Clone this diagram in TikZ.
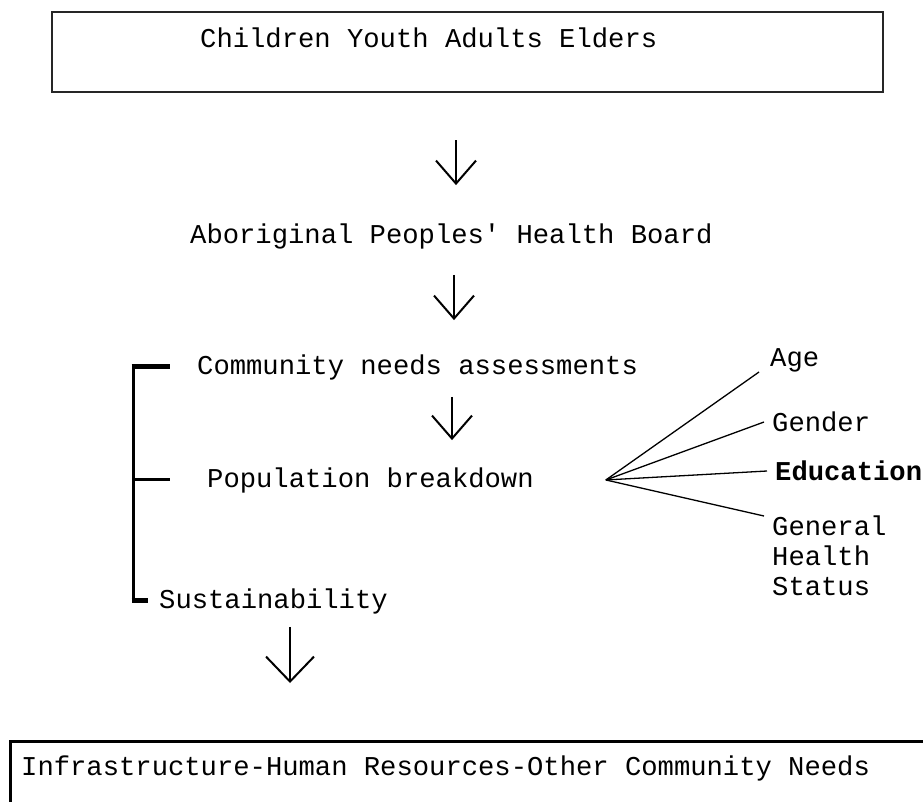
\documentclass[tikz,border=0pt]{standalone}
\usepackage{fontspec}
\setmonofont{Liberation Mono}
\usetikzlibrary{arrows.meta}

\tikzset{
  txt/.style={font=\ttfamily\fontsize{27.2pt}{30pt}\selectfont, inner sep=0pt, anchor=base west},
  frame/.style={draw, line width=2pt, inner sep=0pt, anchor=north west},
  flow/.style={line width=2pt, -{Straight Barb[length=23pt,width=40pt,line width=2pt]}},
  spoke/.style={line width=1.3pt},
}

\begin{document}
\begin{tikzpicture}[x=1pt,y=-1pt]
\clip (0,0) rectangle (923,801);
\fill[white] (0,0) rectangle (923,801);

% target groups at the top
\node[frame, draw=black!85, minimum width=831pt, minimum height=80pt] (groups) at (51,11) {};
\node[txt] (ages) at (200,47) {Children Youth Adults Elders};

% main column
\node[txt] (board) at (190,243) {Aboriginal Peoples' Health Board};
\node[txt] (needs) at (197,374) {Community needs assessments};
\node[txt] (pop) at (207,487) {Population breakdown};
\node[txt] (sust) at (159,608) {Sustainability};

% result box, runs off the page
\node[frame, line width=3pt, minimum width=960pt, minimum height=120pt] (infra) at (9,740) {};
\node[txt] (infratxt) at (21,775) {Infrastructure-Human Resources-Other Community Needs};

% arrows down the column
\coordinate (c1) at (456,0);
\coordinate (c2) at (454,0);
\coordinate (c3) at (452,0);
\coordinate (c4) at (290,0);
\draw[flow, shorten <=47pt, shorten >=38pt] (groups.south -| c1) -- (board.north -| c1);
\draw[flow, shorten <=26pt, shorten >=34pt] (board.south -| c2) -- (needs.north -| c2);
\draw[flow, shorten <=17pt, shorten >=27pt] (needs.south -| c3) -- (pop.north -| c3);
\draw[line width=2pt, -{Straight Barb[length=25pt,width=48pt,line width=2pt]}, shorten <=13pt, shorten >=57pt]
  (sust.south -| c4) -- (infra.north -| c4);

% bracket on the left
\coordinate (brk) at (133,0);
\path (brk |- needs.west) coordinate (bt)
      (brk |- pop.west) coordinate (bm)
      (brk |- sust.west) coordinate (bb);
\draw[line width=3pt] (bt) -- (bb);
\draw[line width=5pt] ([xshift=-1.5pt]bt) -- ([xshift=37pt]bt);
\draw[line width=3pt] (bm) -- ([xshift=37pt]bm);
\draw[line width=5pt] ([xshift=-1.5pt]bb) -- ([xshift=15pt]bb);

% breakdown fan
\coordinate (fan) at ([xshift=72pt]pop.east);
\node[txt, anchor=south west, inner xsep=11pt] (age) at (759,372) {Age};
\node[txt, anchor=west, inner xsep=8pt] (gender) at (764,422) {Gender};
\node[txt, anchor=west, inner xsep=8pt, font=\ttfamily\bfseries\fontsize{27.2pt}{30pt}\selectfont] (edu) at (767,471) {Education};
\node[txt, anchor=north west, inner xsep=8pt, align=left] (ghs) at (764,516) {General\\Health\\Status};
\draw[spoke] (fan) -- (age.south west);
\draw[spoke] (fan) -- (gender.west);
\draw[spoke] (fan) -- (edu.west);
\draw[spoke] (fan) -- (ghs.north west);
\end{tikzpicture}
\end{document}
